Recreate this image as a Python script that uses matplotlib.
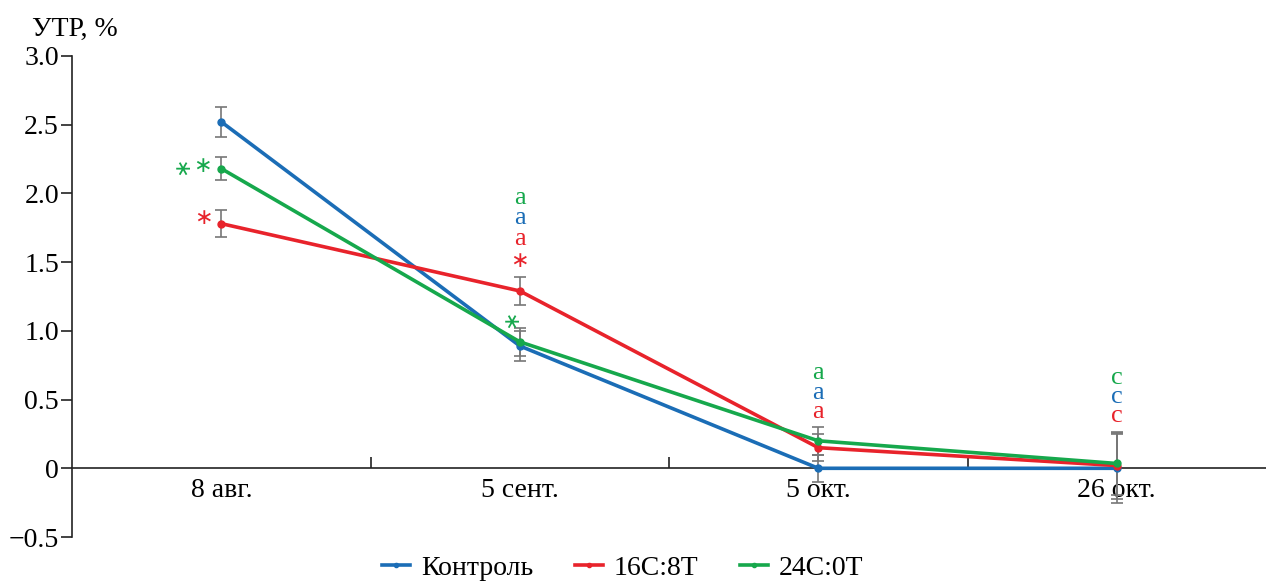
import matplotlib.pyplot as plt
from matplotlib.ticker import FixedLocator, FixedFormatter

plt.rcParams['font.family'] = ['Liberation Serif', 'DejaVu Serif']

dates = ['8 авг.', '5 сент.', '5 окт.', '26 окт.']
series = ['Контроль', '16С:8Т', '24С:0Т']
colors = ['#1b6db6', '#e8232b', '#16a84c']

control = [2.52, 0.89, 0.0, 0.0]
control_err = [0.11, 0.11, 0.10, 0.25]
c16_8 = [1.78, 1.29, 0.15, 0.02]
c16_8_err = [0.10, 0.10, 0.10, 0.24]
c24_0 = [2.18, 0.92, 0.20, 0.035]
c24_0_err = [0.085, 0.10, 0.10, 0.23]

# significance marks: (date index, x shift, y, series index, rotated)
marks = [
    (0, -0.06, 1.82, 1, False),
    (0, -0.065, 2.20, 2, False),
    (0, -0.13, 2.20, 2, True),
    (1, 0.0, 1.51, 1, False),
    (1, -0.03, 1.09, 2, True),
]
letters = [
    (1, ['a', 'a', 'a'], [1.67, 1.82, 1.97]),
    (2, ['a', 'a', 'a'], [0.41, 0.55, 0.69]),
    (3, ['c', 'c', 'c'], [0.38, 0.52, 0.66]),
]

fig = plt.figure(figsize=(12.66, 5.81), dpi=100)
ax = fig.add_axes([0.057, 0.0757, 0.943, 0.828])

x = [i + 0.5 for i in range(len(dates))]
for vals, errs, name, col in zip([control, c16_8, c24_0],
                                 [control_err, c16_8_err, c24_0_err],
                                 series, colors):
    ax.errorbar(x, vals, yerr=errs, fmt='none', ecolor='#777777',
                elinewidth=1.2, capsize=4, capthick=1.2, zorder=2)
    ax.plot(x, vals, '-o', color=col, lw=2.6, ms=5, label=name, zorder=3)

for i, dx, y, s, rot in marks:
    ax.text(x[i] + dx, y, '\u2217', color=colors[s], fontsize=16,
            family='DejaVu Sans', rotation=90 if rot else 0,
            ha='center', va='center')

order = [1, 0, 2]  # red, blue, green from bottom to top
for i, txt, ys in letters:
    for k, (t, y) in enumerate(zip(txt, ys)):
        ax.text(x[i], y, t, color=colors[order[k]], fontsize=19,
                ha='center', va='center')

ax.set_xlim(0, 4)
ax.set_ylim(-0.5, 3.0)
ax.spines['top'].set_visible(False)
ax.spines['right'].set_visible(False)
ax.spines['bottom'].set_position(('data', 0))
ax.spines['left'].set_color('#222222')
ax.spines['bottom'].set_color('#222222')
ax.spines['left'].set_linewidth(1.2)
ax.spines['bottom'].set_linewidth(1.2)

yt = [-0.5, 0, 0.5, 1.0, 1.5, 2.0, 2.5, 3.0]
ax.yaxis.set_major_locator(FixedLocator(yt))
ax.yaxis.set_major_formatter(FixedFormatter(['\u22120.5', '0', '0.5', '1.0',
                                             '1.5', '2.0', '2.5', '3.0']))
ax.tick_params(axis='y', direction='out', length=8, width=1.2,
               color='#222222', labelsize=20, pad=1.5)

ax.set_xticks(x)
ax.set_xticklabels(dates)
ax.set_xticks([1, 2, 3], minor=True)
ax.tick_params(axis='x', which='major', length=0, labelsize=20, pad=7)
ax.tick_params(axis='x', which='minor', direction='in', length=8,
               width=1.2, color='#222222')

fig.text(0.025, 0.95, 'УТР, %', fontsize=20, ha='left', va='center')

fig.legend(loc='center', bbox_to_anchor=(0.492, 0.022), ncol=3,
           frameon=False, fontsize=20, handlelength=1.0, columnspacing=1.5,
           handletextpad=0.4, markerscale=0.6, borderpad=0)

fig.savefig('out.png', dpi=100)
